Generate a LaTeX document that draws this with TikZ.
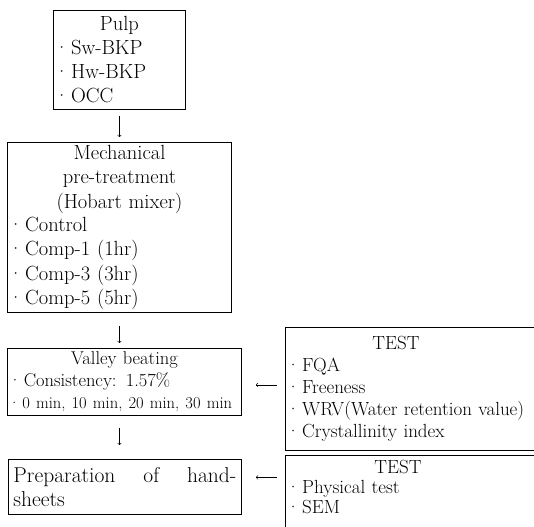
\documentclass[tikz,border=0pt]{standalone}
\newcommand{\bul}{\textperiodcentered\hspace{2pt}}
\begin{document}
\begin{tikzpicture}[x=1pt,y=-1pt,
		box/.style={draw, line width=0.9pt, anchor=north west, inner xsep=1pt, inner ysep=3pt, align=left, font=\fontsize{20.5}{24}\selectfont},
		arr/.style={->, line width=0.6pt}]
	\useasboundingbox (0,0) rectangle (534,526);
	\clip (0,0) rectangle (534,526);
	\node[box, text width=130pt, minimum height=99pt] (pulp) at (53,10) {{\centering Pulp\par}\bul Sw-BKP\\\bul Hw-BKP\\\bul OCC};
	\node[box, text width=222pt, minimum height=170pt] (mech) at (7,142) {{\centering Mechanical\\pre-treatment\\(Hobart mixer)\par}\bul Control\\\bul Comp-1 (1hr)\\\bul Comp-3 (3hr)\\\bul Comp-5 (5hr)};
	\node[box, text width=232pt, minimum height=67pt, font=\fontsize{18.5}{22}\selectfont] (valley) at (7,348) {{\centering Valley beating\par}\bul Consistency: 1.57\%\\{\fontsize{16.5}{19}\selectfont\bul 0 min, 10 min, 20 min, 30 min}};
	\node[box, text width=223pt, inner xsep=5pt, minimum height=55pt, font=\fontsize{21.5}{24}\selectfont] (prep) at (8,459) {Preparation\hfill of\hfill hand-\\sheets};
	\node[box, text width=262pt, minimum height=123pt, font=\fontsize{19}{22}\selectfont] (test1) at (285,327) {\hspace*{86pt}TEST\\\bul FQA\\\bul Freeness\\\bul WRV(Water retention value)\\\bul Crystallinity index};
	\node[box, text width=262pt, inner ysep=5pt, font=\fontsize{19}{20}\selectfont] (test2) at (285,455) {\hspace*{88pt}TEST\\\bul Physical test\\\bul SEM\rule[-20pt]{0pt}{20pt}};
	% flow arrows
	\draw[arr, shorten <=6pt, shorten >=5pt] (pulp.south) -- (mech.north);
	\draw[arr, shorten <=13pt, shorten >=5pt] (mech.south) -- (mech.south |- valley.north);
	\draw[arr, shorten <=12pt, shorten >=14pt] (mech.south |- valley.south) -- (mech.south |- prep.north);
	\draw[arr, shorten <=8pt, shorten >=14pt] ([yshift=-3pt]valley.east -| test1.west) -- ([yshift=-3pt]valley.east);
	\draw[arr, shorten <=8pt, shorten >=14pt] ([yshift=9.5pt]prep.east -| test2.west) -- ([yshift=9.5pt]prep.east);
\end{tikzpicture}
\end{document}
